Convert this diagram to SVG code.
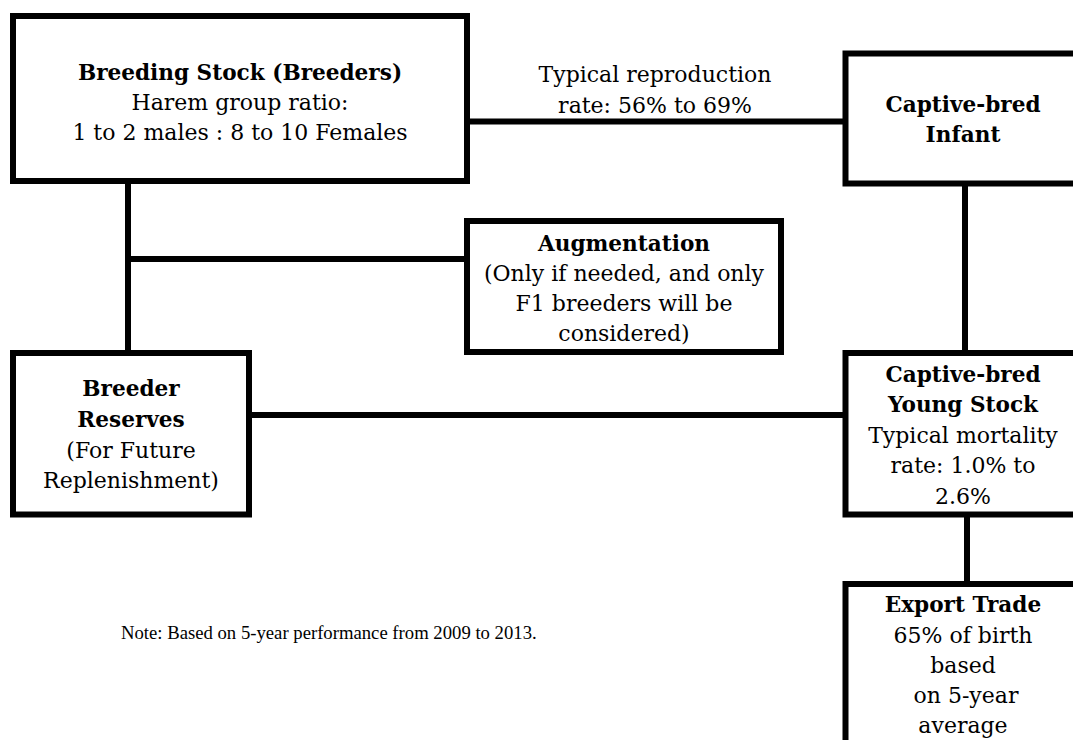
<svg xmlns="http://www.w3.org/2000/svg" width="1073" height="740" viewBox="0 0 1073 740">
<style>
.box{fill:#fff;stroke:#000;stroke-width:6}
.ln{stroke:#000;stroke-width:6;fill:none}
text{font-family:"DejaVu Serif","Liberation Serif",serif;font-size:22px;fill:#000;text-anchor:middle}
.b{font-weight:bold;font-size:21.6px}
.note{font-family:"Liberation Serif",serif;font-size:18.7px;text-anchor:start}
</style>
<rect width="1073" height="740" fill="#fff"/>
<g id="connectors">
<line class="ln" x1="467" y1="121.5" x2="846" y2="121.5"/>
<line class="ln" x1="128" y1="181" x2="128" y2="353"/>
<line class="ln" x1="128" y1="259" x2="467" y2="259"/>
<line class="ln" x1="249" y1="415" x2="846" y2="415"/>
<line class="ln" x1="965" y1="183" x2="965" y2="353"/>
<line class="ln" x1="967" y1="514" x2="967" y2="584"/>
</g>
<g id="breeding-stock">
<rect class="box" x="13" y="16" width="454" height="165"/>
<text x="240" y="80" class="b">Breeding Stock (Breeders)</text>
<text x="240" y="110">Harem group ratio:</text>
<text x="240" y="140">1 to 2 males : 8 to 10 Females</text>
</g>
<g id="reproduction-label">
<text x="655" y="82">Typical reproduction</text>
<text x="655" y="113">rate: 56% to 69%</text>
</g>
<g id="captive-infant">
<rect class="box" x="845.5" y="53.5" width="300" height="130"/>
<text x="963" y="112" class="b">Captive-bred</text>
<text x="963" y="142" class="b">Infant</text>
</g>
<g id="augmentation">
<rect class="box" x="467" y="221" width="314" height="131"/>
<text x="624" y="251" class="b">Augmentation</text>
<text x="624" y="281">(Only if needed, and only</text>
<text x="624" y="311">F1 breeders will be</text>
<text x="624" y="341">considered)</text>
</g>
<g id="breeder-reserves">
<rect class="box" x="13" y="353" width="236" height="161.5"/>
<text x="131" y="396" class="b">Breeder</text>
<text x="131" y="427" class="b">Reserves</text>
<text x="131" y="458">(For Future</text>
<text x="131" y="488">Replenishment)</text>
</g>
<g id="young-stock">
<rect class="box" x="845.5" y="353" width="300" height="161.5"/>
<text x="963" y="382" class="b">Captive-bred</text>
<text x="963" y="412" class="b">Young Stock</text>
<text x="963" y="443">Typical mortality</text>
<text x="963" y="473">rate: 1.0% to</text>
<text x="963" y="504">2.6%</text>
</g>
<g id="export-trade">
<rect class="box" x="845.5" y="584" width="300" height="300"/>
<text x="963" y="612" class="b">Export Trade</text>
<text x="963" y="643">65% of birth</text>
<text x="963" y="673">based</text>
<text x="966" y="703">on 5-year</text>
<text x="963" y="733">average</text>
</g>
<text class="note" x="121" y="639">Note: Based on 5-year performance from 2009 to 2013.</text>
</svg>
